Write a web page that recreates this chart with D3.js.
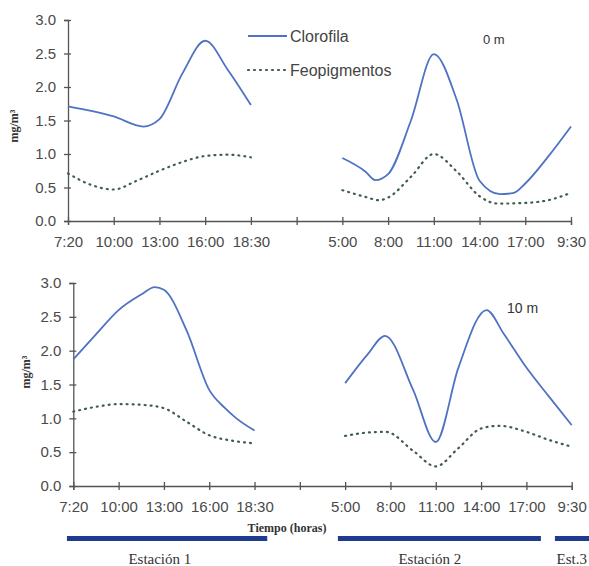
<!DOCTYPE html>
<html>
<head>
<meta charset="utf-8">
<script src="https://cdn.jsdelivr.net/npm/d3@7"></script>
<style>
  body { margin: 0; background: #fff; }
  text { font-family: "Liberation Sans", Arial, sans-serif; }
  .serif { font-family: "Liberation Serif", "Times New Roman", serif; }
</style>
</head>
<body>
<div id="chart"></div>
<script>
const width = 589;
const height = 566;

// category axis (index positions 0..11), index 5 is the gap between stations
const timeLabels = ["7:20", "10:00", "13:00", "16:00", "18:30", "", "5:00", "8:00", "11:00", "14:00", "17:00", "9:30"];
const yTicks = [0, 0.5, 1, 1.5, 2, 2.5, 3];

// 0 m  -- [position on time axis, mg/m3]
const clor0_est1 = [[0, 1.71], [1, 1.56], [1.65, 1.41], [2, 1.52], [2.5, 2.2], [3, 2.69], [3.5, 2.25], [4, 1.73]];
const feo0_est1 = [[0, 0.71], [0.5, 0.54], [1, 0.47], [1.5, 0.6], [2, 0.75], [2.5, 0.88], [3, 0.97], [3.5, 0.99], [4, 0.95]];
const clor0_est2 = [[6, 0.94], [6.5, 0.74], [6.72, 0.61], [7, 0.7], [7.5, 1.5], [8, 2.49], [8.5, 1.81], [9, 0.6], [9.45, 0.4], [9.75, 0.42], [10, 0.56], [10.5, 0.96], [11, 1.41]];
const feo0_est2 = [[6, 0.46], [6.5, 0.36], [6.8, 0.31], [7, 0.35], [7.5, 0.66], [8, 1.0], [8.5, 0.74], [9, 0.37], [9.4, 0.26], [10, 0.27], [10.5, 0.31], [11, 0.42]];

// 10 m
const clor10_est1 = [[0, 1.87], [0.5, 2.24], [1, 2.6], [1.5, 2.83], [1.8, 2.94], [2, 2.9], [2.5, 2.3], [3, 1.42], [3.35, 1.15], [3.6, 1.0], [4, 0.82]];
const feo10_est1 = [[0, 1.1], [0.5, 1.17], [1, 1.21], [1.5, 1.2], [2, 1.15], [2.5, 0.95], [3, 0.75], [3.5, 0.67], [4, 0.63]];
const clor10_est2 = [[6, 1.52], [6.5, 1.95], [6.88, 2.22], [7.5, 1.42], [8, 0.65], [8.5, 1.75], [9.12, 2.6], [9.5, 2.25], [10, 1.75], [10.5, 1.32], [11, 0.9]];
const feo10_est2 = [[6, 0.74], [6.5, 0.79], [6.9, 0.8], [7.5, 0.52], [8, 0.29], [8.5, 0.56], [9, 0.85], [9.4, 0.89], [10, 0.8], [10.5, 0.68], [11, 0.58]];

// stations under the time axis, in time-axis positions
const stations = ["Estación 1", "Estación 2", "Est.3"];
const stationStart = [-0.14, 5.84, 10.63];
const stationEnd = [4.28, 10.32, 11.5];
const stationLabelAt = [1.91, 7.87, 11.0];

const seriesNames = ["Clorofila", "Feopigmentos"];

const blue = "#4f72c4";
const green = "#3f5e48";
const axisCol = "#555";

const svg = d3.select("#chart").append("svg")
  .attr("width", width)
  .attr("height", height);

const line = (x, y) => d3.line()
  .x(d => x(d[0]))
  .y(d => y(d[1]))
  .curve(d3.curveMonotoneX);

function drawPanel(opt) {
  const x = d3.scaleLinear().domain([0, 11]).range(opt.xRange);
  const y = d3.scaleLinear().domain([0, 3]).range(opt.yRange);
  const g = svg.append("g");

  // y axis
  const ya = g.append("g")
    .attr("transform", `translate(${opt.xRange[0]},0)`)
    .call(d3.axisLeft(y).tickValues(yTicks).tickFormat(d3.format(".1f")).tickSizeOuter(0).tickSize(4).tickPadding(8));
  ya.selectAll(".tick line").attr("x1", -4).attr("x2", 3);
  ya.selectAll("text").attr("font-size", 15).attr("fill", "#4a4a4a");

  // x axis
  const xa = g.append("g")
    .attr("transform", `translate(0,${opt.yRange[0]})`)
    .call(d3.axisBottom(x).tickValues(d3.range(12)).tickFormat(i => timeLabels[i]).tickSizeOuter(0).tickSize(4).tickPadding(11));
  xa.selectAll(".tick line").attr("y1", -4).attr("y2", 4);
  xa.selectAll("text").attr("font-size", 15).attr("fill", "#4a4a4a");

  g.selectAll(".domain, .tick line").attr("stroke", axisCol).attr("stroke-width", 1.3);

  // y label
  g.append("text")
    .attr("class", "serif")
    .attr("transform", `translate(${opt.labelX},${opt.labelY}) rotate(-90)`)
    .attr("text-anchor", "middle")
    .attr("font-size", 12)
    .attr("font-weight", "bold")
    .attr("fill", "#333")
    .text("mg/m³");

  const l = line(x, y);
  opt.clor.forEach(s => {
    g.append("path").datum(s)
      .attr("fill", "none").attr("stroke", blue).attr("stroke-width", 1.8)
      .attr("d", l);
  });
  opt.feo.forEach(s => {
    g.append("path").datum(s)
      .attr("fill", "none").attr("stroke", green).attr("stroke-width", 2.2)
      .attr("stroke-dasharray", "1,5").attr("stroke-linecap", "round")
      .attr("d", l);
  });

  g.append("text")
    .attr("x", opt.depthX).attr("y", opt.depthY)
    .attr("font-size", opt.depthSize)
    .attr("fill", "#333")
    .text(opt.depth);

  return x;
}

drawPanel({
  xRange: [68, 571], yRange: [221, 20],
  labelX: 18, labelY: 126,
  clor: [clor0_est1, clor0_est2], feo: [feo0_est1, feo0_est2],
  depth: "0 m", depthX: 483, depthY: 44, depthSize: 13
});

const xb = drawPanel({
  xRange: [73.3, 571.7], yRange: [486, 283],
  labelX: 30, labelY: 372,
  clor: [clor10_est1, clor10_est2], feo: [feo10_est1, feo10_est2],
  depth: "10 m", depthX: 507, depthY: 313, depthSize: 14
});

// legend
const legend = svg.append("g");
seriesNames.forEach((name, i) => {
  const yy = 36 + i * 34;
  legend.append("line")
    .attr("x1", 248).attr("x2", 287).attr("y1", yy).attr("y2", yy)
    .attr("stroke", i === 0 ? blue : green)
    .attr("stroke-width", i === 0 ? 1.8 : 2.2)
    .attr("stroke-dasharray", i === 0 ? null : "1,5")
    .attr("stroke-linecap", i === 0 ? null : "round");
  legend.append("text")
    .attr("x", 290).attr("y", yy + 6)
    .attr("font-size", 16)
    .attr("fill", "#444")
    .text(name);
});

// time label and station bars
svg.append("text")
  .attr("class", "serif")
  .attr("x", 287).attr("y", 532)
  .attr("text-anchor", "middle")
  .attr("font-size", 12)
  .attr("font-weight", "bold")
  .attr("fill", "#333")
  .text("Tiempo (horas)");

svg.append("g").selectAll("rect")
  .data(stations)
  .join("rect")
    .attr("x", (d, i) => xb(stationStart[i]))
    .attr("width", (d, i) => xb(stationEnd[i]) - xb(stationStart[i]))
    .attr("y", 536)
    .attr("height", 5)
    .attr("fill", "#1e3b8f");

svg.append("g").selectAll("text")
  .data(stations)
  .join("text")
    .attr("class", "serif")
    .attr("x", (d, i) => xb(stationLabelAt[i]))
    .attr("y", 564)
    .attr("text-anchor", "middle")
    .attr("font-size", 15)
    .attr("fill", "#333")
    .text(d => d);
</script>
</body>
</html>
